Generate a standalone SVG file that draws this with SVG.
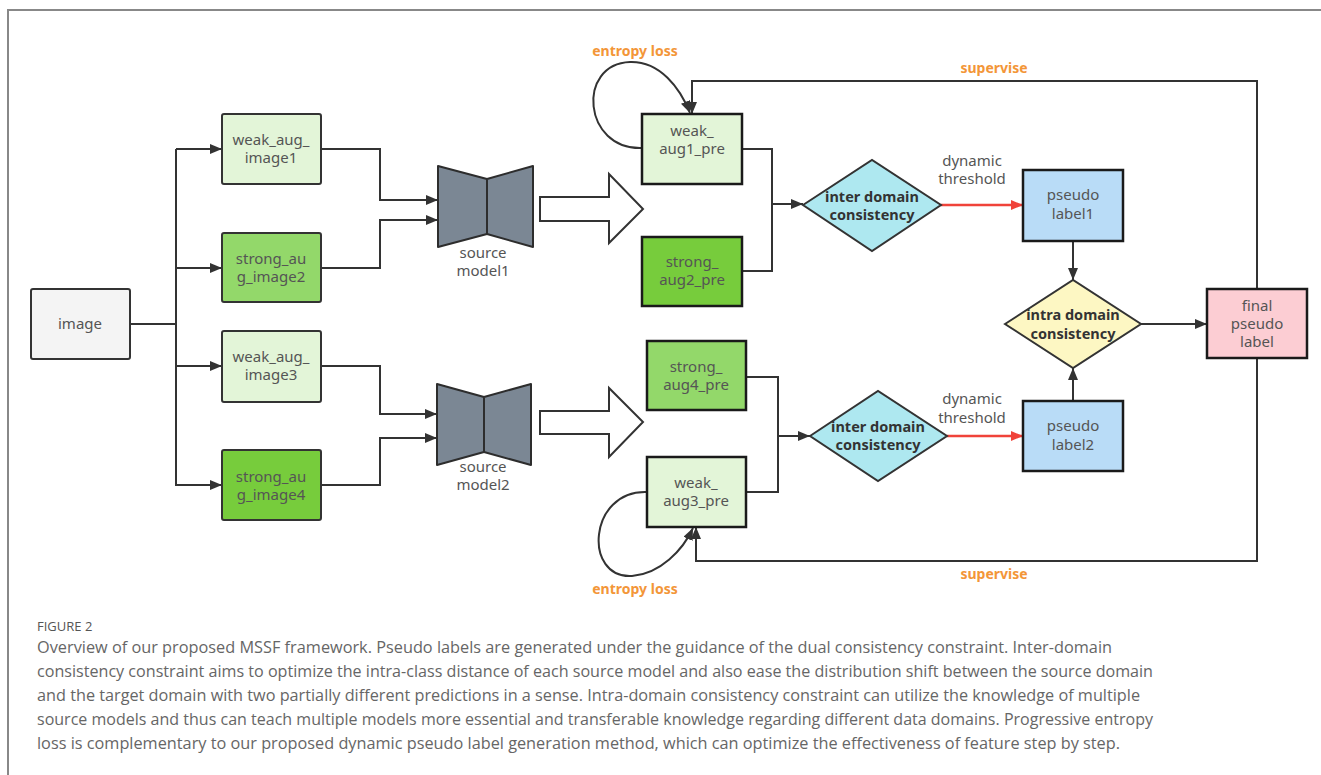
<svg xmlns="http://www.w3.org/2000/svg" width="1321" height="775" viewBox="0 0 1321 775">
<style>
.box{stroke:#333;stroke-width:2}
.pbox{stroke:#1a1a1a;stroke-width:2.5}
.t{font-family:"Noto Sans","Open Sans",sans-serif;font-size:15px;fill:#555;text-anchor:middle}
.b{font-family:"Noto Sans","Open Sans",sans-serif;font-size:14.5px;font-weight:bold;fill:#333;text-anchor:middle}
.o{font-family:"Noto Sans","Open Sans",sans-serif;font-size:14px;font-weight:bold;fill:#f39638;text-anchor:middle}
.c{font-family:"Open Sans","Noto Sans",sans-serif;font-size:16.5px;fill:#666}
.ln{fill:none;stroke:#333;stroke-width:2}
.red{fill:none;stroke:#f0433a;stroke-width:2.5}
.model{fill:#7b8794;stroke:#2d2d2d;stroke-width:2;stroke-linejoin:round}
.hollow{fill:#fff;stroke:#333;stroke-width:2}
.lg{fill:#e3f5d8}.mg{fill:#93d86a}.dg{fill:#77cc3c}
</style>
<defs>
<marker id="ah" viewBox="0 0 12 10" refX="12" refY="5" markerWidth="12" markerHeight="10" orient="auto" markerUnits="userSpaceOnUse"><path d="M0,0 L12,5 L0,10 z" fill="#333"/></marker>
<marker id="ahr" viewBox="0 0 12 10" refX="12" refY="5" markerWidth="12" markerHeight="10" orient="auto" markerUnits="userSpaceOnUse"><path d="M0,0 L12,5 L0,10 z" fill="#f0433a"/></marker>
</defs>
<rect width="1321" height="775" fill="#fff"/>
<path d="M8,775 V10 H1321" fill="none" stroke="#888" stroke-width="2"/>

<g id="connectors">
<path class="ln" d="M130,324 H176"/>
<path class="ln" d="M176,149 V486"/>
<path class="ln" d="M176,149 H222" marker-end="url(#ah)"/>
<path class="ln" d="M176,268 H222" marker-end="url(#ah)"/>
<path class="ln" d="M176,366 H222" marker-end="url(#ah)"/>
<path class="ln" d="M176,485 H222" marker-end="url(#ah)"/>
<path class="ln" d="M321,149 H380 V200 H438" marker-end="url(#ah)"/>
<path class="ln" d="M321,268 H380 V220 H438" marker-end="url(#ah)"/>
<path class="ln" d="M321,366 H380 V414 H437" marker-end="url(#ah)"/>
<path class="ln" d="M321,485 H380 V438 H437" marker-end="url(#ah)"/>
<polygon class="hollow" points="540,197 609,197 609,174 643,209 609,243 609,221 540,221"/>
<polygon class="hollow" points="540,411 609,411 609,388 643,422 609,457 609,434 540,434"/>
<path class="ln" d="M742,149 H772 V271 H742"/>
<path class="ln" d="M772,204 H803" marker-end="url(#ah)"/>
<path class="ln" d="M746,377 H778 V492 H746"/>
<path class="ln" d="M778,436 H810" marker-end="url(#ah)"/>
<path class="red" d="M941,205 H1023" marker-end="url(#ahr)"/>
<path class="red" d="M947,436 H1023" marker-end="url(#ahr)"/>
<path class="ln" d="M1073,241 V280" marker-end="url(#ah)"/>
<path class="ln" d="M1073,401 V368" marker-end="url(#ah)"/>
<path class="ln" d="M1141,324 H1207" marker-end="url(#ah)"/>
<path class="ln" d="M1257,289 V81 H692 V114" marker-end="url(#ah)"/>
<path class="ln" d="M1257,358 V561 H696 V527" marker-end="url(#ah)"/>
<path class="ln" d="M642,148 C583,150 576,64 630,62 C660,61 680,88 690,113" marker-end="url(#ah)"/>
<path class="ln" d="M647,492 C588,490 583,579 632,576 C660,574 683,550 693,528" marker-end="url(#ah)"/>
<text class="o" x="635" y="56">entropy loss</text>
<text class="o" x="635" y="594">entropy loss</text>
<text class="o" x="994" y="73">supervise</text>
<text class="o" x="994" y="579">supervise</text>
<text class="t" x="972" y="166">dynamic</text>
<text class="t" x="972" y="184">threshold</text>
<text class="t" x="972" y="404">dynamic</text>
<text class="t" x="972" y="423">threshold</text>
</g>

<g id="image"><rect class="box" x="31" y="289" width="99" height="70" rx="2" fill="#f4f4f4"/><text class="t" x="80" y="329">image</text></g>
<g id="weak_aug_image1"><rect class="box lg" x="222" y="114" width="99" height="70" rx="2"/><text class="t" x="271" y="145">weak_aug_</text><text class="t" x="271" y="163">image1</text></g>
<g id="strong_aug_image2"><rect class="box mg" x="222" y="233" width="99" height="69" rx="2"/><text class="t" x="271" y="264">strong_au</text><text class="t" x="271" y="282">g_image2</text></g>
<g id="weak_aug_image3"><rect class="box lg" x="222" y="331" width="99" height="71" rx="2"/><text class="t" x="271" y="362">weak_aug_</text><text class="t" x="271" y="380">image3</text></g>
<g id="strong_aug_image4"><rect class="box dg" x="222" y="450" width="99" height="70" rx="2"/><text class="t" x="271" y="482">strong_au</text><text class="t" x="271" y="500">g_image4</text></g>

<g id="source_model1"><polygon class="model" points="438,166 487,179 487,234 438,247"/><polygon class="model" points="487,179 533,166 533,247 487,234"/><text class="t" x="483" y="258">source</text><text class="t" x="483" y="276">model1</text></g>
<g id="source_model2"><polygon class="model" points="437,384 484,397 484,452 437,465"/><polygon class="model" points="484,397 531,384 531,465 484,452"/><text class="t" x="483" y="472">source</text><text class="t" x="483" y="490">model2</text></g>

<g id="weak_aug1_pre"><rect class="pbox lg" x="642" y="114" width="100" height="70"/><text class="t" x="692" y="136">weak_</text><text class="t" x="692" y="154">aug1_pre</text></g>
<g id="strong_aug2_pre"><rect class="pbox dg" x="642" y="237" width="100" height="69"/><text class="t" x="692" y="267">strong_</text><text class="t" x="692" y="285">aug2_pre</text></g>
<g id="strong_aug4_pre"><rect class="pbox mg" x="647" y="341" width="99" height="69"/><text class="t" x="696" y="372">strong_</text><text class="t" x="696" y="390">aug4_pre</text></g>
<g id="weak_aug3_pre"><rect class="pbox lg" x="647" y="457" width="99" height="70"/><text class="t" x="696" y="488">weak_</text><text class="t" x="696" y="506">aug3_pre</text></g>

<g id="inter_domain1"><polygon points="803,205 872,160 941,205 872,251" fill="#aee8f0" stroke="#333" stroke-width="2"/><text class="b" x="872" y="202">inter domain</text><text class="b" x="872" y="220">consistency</text></g>
<g id="inter_domain2"><polygon points="810,436 878,391 947,436 878,481" fill="#aee8f0" stroke="#333" stroke-width="2"/><text class="b" x="878" y="432">inter domain</text><text class="b" x="878" y="450">consistency</text></g>

<g id="pseudo_label1"><rect class="pbox" x="1023" y="170" width="100" height="71" fill="#b9dcf7"/><text class="t" x="1073" y="200">pseudo</text><text class="t" x="1073" y="219">label1</text></g>
<g id="pseudo_label2"><rect class="pbox" x="1023" y="401" width="100" height="70" fill="#b9dcf7"/><text class="t" x="1073" y="431">pseudo</text><text class="t" x="1073" y="450">label2</text></g>

<g id="intra_domain"><polygon points="1005,324 1073,280 1141,324 1073,368" fill="#fdf7c3" stroke="#333" stroke-width="2"/><text class="b" x="1073" y="320">intra domain</text><text class="b" x="1073" y="339">consistency</text></g>

<g id="final_pseudo_label"><rect class="pbox" x="1207" y="289" width="100" height="69" fill="#fccdd3"/><text class="t" x="1257" y="311">final</text><text class="t" x="1257" y="329">pseudo</text><text class="t" x="1257" y="347">label</text></g>

<g id="caption">
<text x="37" y="631" font-family="'Open Sans','Noto Sans',sans-serif" font-size="13" fill="#555">FIGURE 2</text>
<text class="c" x="37" y="653" textLength="1075" lengthAdjust="spacingAndGlyphs">Overview of our proposed MSSF framework. Pseudo labels are generated under the guidance of the dual consistency constraint. Inter-domain</text>
<text class="c" x="37" y="677" textLength="1116" lengthAdjust="spacingAndGlyphs">consistency constraint aims to optimize the intra-class distance of each source model and also ease the distribution shift between the source domain</text>
<text class="c" x="37" y="701" textLength="1103" lengthAdjust="spacingAndGlyphs">and the target domain with two partially different predictions in a sense. Intra-domain consistency constraint can utilize the knowledge of multiple</text>
<text class="c" x="37" y="725" textLength="1116" lengthAdjust="spacingAndGlyphs">source models and thus can teach multiple models more essential and transferable knowledge regarding different data domains. Progressive entropy</text>
<text class="c" x="37" y="749" textLength="1083" lengthAdjust="spacingAndGlyphs">loss is complementary to our proposed dynamic pseudo label generation method, which can optimize the effectiveness of feature step by step.</text>
</g>
</svg>
